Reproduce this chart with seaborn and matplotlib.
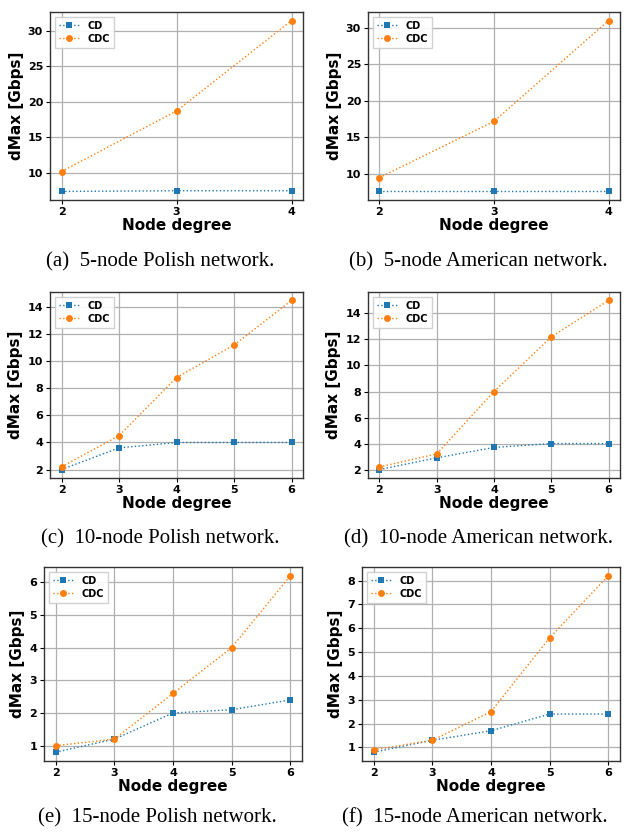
import matplotlib
matplotlib.use("Agg")
import matplotlib.pyplot as plt
from matplotlib.ticker import MultipleLocator
import seaborn as sns

sns.set_style("ticks")
plt.rcParams['font.family'] = ['DejaVu Sans']
plt.rcParams['text.color'] = 'black'
plt.rcParams['axes.labelcolor'] = 'black'
plt.rcParams['xtick.color'] = 'black'
plt.rcParams['ytick.color'] = 'black'

# degrees for each panel
deg_5 = [2, 3, 4]
deg_10 = [2, 3, 4, 5, 6]
deg_15 = [2, 3, 4, 5, 6]

# dMax values [Gbps]
cd_a = [7.4, 7.5, 7.5]
cdc_a = [10.2, 18.7, 31.4]
cd_b = [7.6, 7.6, 7.6]
cdc_b = [9.5, 17.2, 31.0]
cd_c = [2.0, 3.6, 4.0, 4.0, 4.0]
cdc_c = [2.2, 4.5, 8.8, 11.2, 14.5]
cd_d = [2.0, 2.9, 3.7, 4.0, 4.0]
cdc_d = [2.2, 3.2, 8.0, 12.2, 15.0]
cd_e = [0.8, 1.2, 2.0, 2.1, 2.4]
cdc_e = [1.0, 1.2, 2.6, 4.0, 6.2]
cd_f = [0.8, 1.3, 1.7, 2.4, 2.4]
cdc_f = [0.9, 1.3, 2.5, 5.6, 8.2]

captions = ["(a)  5-node Polish network.", "(b)  5-node American network.",
            "(c)  10-node Polish network.", "(d)  10-node American network.",
            "(e)  15-node Polish network.", "(f)  15-node American network."]

panels = [(deg_5, cd_a, cdc_a), (deg_5, cd_b, cdc_b),
          (deg_10, cd_c, cdc_c), (deg_10, cd_d, cdc_d),
          (deg_15, cd_e, cdc_e), (deg_15, cd_f, cdc_f)]
y_steps = [5, 5, 2, 2, 1, 1]

W, H = 627, 836
# axes boxes in pixels: left, top, right, bottom
boxes = [(50, 12, 303, 200), (368, 12, 620, 200),
         (50, 292, 303, 478), (368, 292, 620, 478),
         (44, 567, 302, 761), (362, 567, 620, 761)]
cap_y = [262, 262, 539, 539, 818, 818]

fig = plt.figure(figsize=(W / 100, H / 100), dpi=100)

blue = "#1f77b4"
orange = "#ff7f0e"

for i, ((x, cd, cdc), (l, t, r, b)) in enumerate(zip(panels, boxes)):
    ax = fig.add_axes([l / W, 1 - b / H, (r - l) / W, (b - t) / H])
    sns.lineplot(x=x, y=cd, ax=ax, color=blue, marker="s", linestyle=":",
                 linewidth=1, markersize=5, markeredgewidth=0, label="CD")
    sns.lineplot(x=x, y=cdc, ax=ax, color=orange, marker="o", linestyle=":",
                 linewidth=1, markersize=5, markeredgewidth=0, label="CDC")
    ax.set_xticks(x)
    ax.yaxis.set_major_locator(MultipleLocator(y_steps[i]))
    ax.grid(True, color="#b0b0b0", linewidth=0.9)
    ax.set_axisbelow(True)
    for s in ax.spines.values():
        s.set_color("#333333")
        s.set_linewidth(1.0)
    ax.tick_params(labelsize=8, length=3, pad=2)
    for lab in ax.get_xticklabels() + ax.get_yticklabels():
        lab.set_fontweight("bold")
    ax.set_xlabel("Node degree", fontsize=11, fontweight="bold", labelpad=1)
    ax.set_ylabel("dMax [Gbps]", fontsize=11, fontweight="bold", labelpad=3)
    ax.legend(loc="upper left", prop={"weight": "bold", "size": 7},
              handlelength=2.2, borderpad=0.4, labelspacing=0.3,
              fancybox=False, framealpha=0.9, edgecolor="#cccccc")
    fig.text(((l + r) / 2 - 16) / W, 1 - cap_y[i] / H, captions[i],
             ha="center", va="center", fontsize=15,
             family="Liberation Serif")

fig.savefig("out.png", dpi=100)
